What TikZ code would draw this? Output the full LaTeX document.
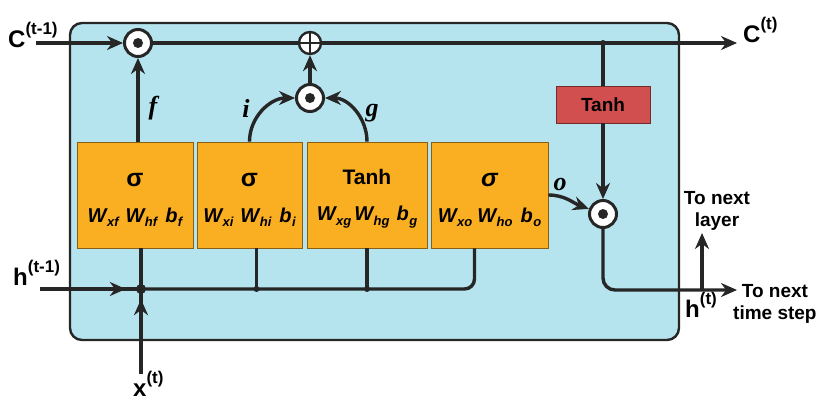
\documentclass[tikz,border=0pt]{standalone}
\usepackage{fontspec}
\setmainfont{Liberation Sans}
\newfontfamily\gatefont{Liberation Serif}
\usetikzlibrary{arrows.meta,positioning,decorations.markings}

\definecolor{cellblue}{HTML}{B5E4EE}
\definecolor{gateorange}{HTML}{FAAE22}
\definecolor{tanhred}{HTML}{D24F50}
\definecolor{linegray}{HTML}{262626}

% weight with subscript, label with superscript
\newcommand{\wgt}[2]{{\bfseries\itshape #1\hspace{0.5pt}\raisebox{-0.45ex}{\fontsize{13}{13}\selectfont #2}}}
\newcommand{\tlab}[2]{{\bfseries #1\raisebox{1.0ex}{\fontsize{17}{17}\selectfont #2}}}
\newcommand{\gup}{\rule{0pt}{23pt}}

\begin{document}
\begin{tikzpicture}[x=1pt, y=1pt, >={Stealth[length=16pt,width=14pt]}]

\tikzset{
  cell/.style={draw=linegray, line width=2.4pt, fill=cellblue, rounded corners=12pt},
  gate/.style={
    rectangle, draw=black!45!gateorange, line width=0.8pt, fill=gateorange,
    minimum height=106pt, inner sep=0pt, align=center,
    font=\fontsize{20}{26}\selectfont\bfseries
  },
  act/.style={
    rectangle, draw=black!45!tanhred, line width=0.8pt, fill=tanhred,
    minimum width=94pt, minimum height=37pt,
    font=\fontsize{19}{19}\selectfont\bfseries
  },
  mul/.style={
    circle, draw=linegray, line width=3pt, fill=white,
    minimum size=27pt, inner sep=0pt,
    path picture={\fill[linegray] (path picture bounding box.center) circle (5pt);}
  },
  add/.style={
    circle, draw=linegray, line width=2.4pt, fill=white,
    minimum size=22pt, inner sep=0pt,
    path picture={
      \draw[linegray, line width=2pt]
        (path picture bounding box.north) -- (path picture bounding box.south)
        (path picture bounding box.west) -- (path picture bounding box.east);}
  },
  wire/.style={draw=linegray, line width=3.4pt},
  arrow/.style={wire, ->},
  midarrow/.style={wire, postaction={decorate},
    decoration={markings, mark=at position #1 with {\arrow{>}}}},
  lbl/.style={font=\fontsize{24}{24}\selectfont, inner sep=0pt},
  note/.style={font=\fontsize{19}{22}\selectfont\bfseries, align=center, inner sep=0pt},
  gname/.style={font=\fontsize{26}{26}\selectfont\gatefont\bfseries\itshape, inner sep=0pt}
}

\useasboundingbox (0,0) rectangle (825,-405);

% cell body
\node[cell, minimum width=609pt, minimum height=317pt] (cell) at (374.5,-181.5) {};

% gates
\node[gate, minimum width=116pt] (fgate) at (135,-195)
  {\gup{\fontsize{25}{26}\selectfont σ}\\[10pt]\wgt{W}{xf}\hspace{7pt}\wgt{W}{hf}\hspace{8pt}\wgt{b}{f}};
\node[gate, minimum width=105pt] (igate) at (249.5,-195)
  {\gup{\fontsize{25}{26}\selectfont σ}\\[10pt]\wgt{W}{xi}\hspace{7pt}\wgt{W}{hi}\hspace{8pt}\wgt{b}{i}};
\node[gate, minimum width=120pt] (ggate) at (367,-195)
  {\gup{\fontsize{21}{26}\selectfont Tanh}\\[10pt]\wgt{W}{xg}\hspace{3pt}\wgt{W}{hg}\hspace{7pt}\wgt{b}{g}};
\node[gate, minimum width=117pt] (ogate) at (489.5,-195)
  {\gup{\fontsize{25}{26}\selectfont\itshape σ}\\[10pt]\wgt{W}{xo}\hspace{5pt}\wgt{W}{ho}\hspace{8pt}\wgt{b}{o}};

% pointwise operations
\node[mul] (mulf) at (138,-43) {};
\node[add] (addc) at (310,-43) {};
\node[mul] (mulig) at (310,-98) {};
\node[act] (tanhc) at (603,-104.5) {Tanh};
\node[mul] (mulo) at (603,-214) {};

% free ends
\coordinate (cin) at (36,-43);
\coordinate (cout) at (737,-43);
\coordinate (csplit) at (603,-43);
\coordinate (hin) at (40,-289);
\coordinate (hjoin) at (141,-289);
\coordinate (xin) at (141,-374);
\coordinate (hsplit) at (702,-290);
\coordinate (hout) at (737,-290);
\coordinate (nextlayer) at (702,-233);

% cell state
\draw[arrow] (cin) -- (mulf);
\draw[wire] (mulf) -- (addc);
\draw[arrow] (addc) -- (cout);
\draw[wire] (csplit) -- (tanhc);
\draw[arrow] (tanhc) -- (mulo);
\fill[linegray] (csplit) circle (3pt);

% gate outputs
\draw[arrow] (fgate.north -| mulf) -- (mulf);
\draw[arrow] (igate.north) to[out=90, in=180] (mulig);
\draw[arrow] (ggate.north) to[out=90, in=0] (mulig);
\draw[arrow] (mulig) -- (addc);
\draw[arrow] (ogate.east) to[out=0, in=160] (mulo);

% inputs
\draw[midarrow=0.85] (hin) -- (hjoin);
\draw[midarrow=0.88] (xin) -- (hjoin);
\draw[wire] ([xshift=6pt]fgate.south) -- (hjoin);
\draw[wire, rounded corners=10pt] (hjoin) -| ([xshift=-15pt]ogate.south);
\draw[wire] ([xshift=7pt]igate.south) -- ([xshift=7pt]igate.south |- hjoin);
\draw[wire] (ggate.south) -- (ggate.south |- hjoin);
\fill[linegray] (hjoin) circle (5pt);
\fill[linegray] ([xshift=7pt]igate.south |- hjoin) circle (3pt);
\fill[linegray] (ggate.south |- hjoin) circle (3pt);

% hidden output
\draw[arrow, rounded corners=12pt] (mulo) |- (hout);
\draw[arrow] (hsplit) -- (nextlayer);

% labels
\node[lbl, anchor=base west] (cprevlbl) at (8,-47) {\tlab{C}{(t-1)}};
\node[lbl, anchor=base west] (coutlbl) at (743,-42) {\tlab{C}{(t)}};
\node[lbl, anchor=base west] (hprevlbl) at (13,-285) {\tlab{h}{(t-1)}};
\node[lbl, anchor=base west] (xlbl) at (133,-396) {\tlab{x}{(t)}};
\node[lbl, anchor=base west] (hlbl) at (685,-317) {\tlab{h}{(t)}};
\node[note] (layerlbl) at (717,-211) {To next\\layer};
\node[note, anchor=west] (steplbl) at (733,-304) {To next\\time step};
\node[gname] (flbl) at (153,-108) {f};
\node[gname] (ilbl) at (246,-108) {i};
\node[gname] (glbl) at (372,-113) {g};
\node[gname] (olbl) at (560,-184) {o};

\end{tikzpicture}
\end{document}
